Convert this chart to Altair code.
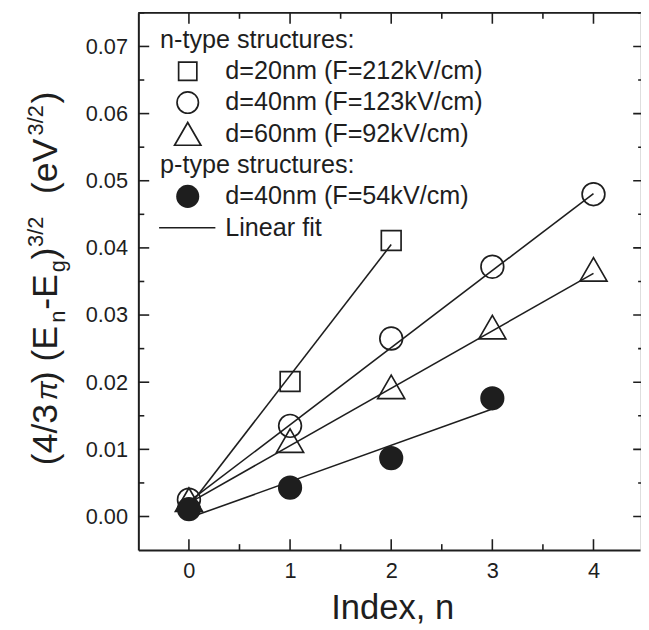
import altair as alt
import pandas as pd

# ---------------- data ----------------
x_ticks = [0, 1, 2, 3, 4]
y_ticks = [0.00, 0.01, 0.02, 0.03, 0.04, 0.05, 0.06, 0.07]

sq_n = [1, 2]
sq_v = [0.0201, 0.0411]
ci_n = [0, 1, 2, 3, 4]
ci_v = [0.0025, 0.0135, 0.0265, 0.0372, 0.0480]
tr_n = [0, 1, 2, 3, 4]
tr_v = [0.0025, 0.0113, 0.0193, 0.0282, 0.0368]
fc_n = [0, 1, 2, 3]
fc_v = [0.0011, 0.0043, 0.0087, 0.0176]

fit_sq_n = [0, 2]
fit_sq_v = [0.0015, 0.0405]
fit_ci_n = [0, 4]
fit_ci_v = [0.0022, 0.0481]
fit_tr_n = [0, 4]
fit_tr_v = [0.0020, 0.0362]
fit_fc_n = [0, 3]
fit_fc_v = [-0.0002, 0.0160]

legend_labels = ["n-type structures:", "d=20nm (F=212kV/cm)", "d=40nm (F=123kV/cm)",
                 "d=60nm (F=92kV/cm)", "p-type structures:", "d=40nm (F=54kV/cm)", "Linear fit"]

# ---------------- style / layout ----------------
INK = "#1e1e1e"
FONT = "Liberation Sans"
W, H = 508, 544
XMIN, XMAX = -0.5, 4.46
YMIN, YMAX = -0.005, 0.075
XEDGE = 4.5

xscale = alt.Scale(domain=[XMIN, XMAX], nice=False, zero=False)
yscale = alt.Scale(domain=[YMIN, YMAX], nice=False, zero=False)
xaxis = alt.Axis(values=x_ticks, format="d", ticks=False, grid=False, domainColor=INK,
                 domainWidth=2, labelFontSize=22, labelPadding=11, labelColor=INK,
                 labelFont=FONT, title="Index, n", titleFontSize=35, titleFont=FONT,
                 titleFontWeight="normal", titleColor=INK, titleX=257, titleY=69,
                 titleAlign="center", titleBaseline="alphabetic")
yaxis = alt.Axis(values=y_ticks, format=".2f", ticks=False, grid=False, domainColor=INK,
                 domainWidth=2, labelFontSize=22, labelPadding=11, labelColor=INK,
                 labelFont=FONT, title="")


def X(field):
    return alt.X(field, type="quantitative", scale=xscale, axis=xaxis)


def Y(field):
    return alt.Y(field, type="quantitative", scale=yscale, axis=yaxis)


def XD(v):
    return alt.XDatum(v, scale=xscale, axis=xaxis)


def YD(v):
    return alt.YDatum(v, scale=yscale, axis=yaxis)


def df(ns, vs):
    return pd.DataFrame({"n": ns, "v": vs})


layers = []

# top frame line
layers.append(alt.Chart(pd.DataFrame({"a": [0]})).mark_rule(color=INK, strokeWidth=2)
              .encode(y=YD(YMAX)))

# fit lines
for ns, vs in [(fit_sq_n, fit_sq_v), (fit_ci_n, fit_ci_v), (fit_tr_n, fit_tr_v), (fit_fc_n, fit_fc_v)]:
    layers.append(alt.Chart(df(ns, vs)).mark_line(color=INK, strokeWidth=1.6)
                  .encode(x=X("n"), y=Y("v")))

# points
layers.append(alt.Chart(df(sq_n, sq_v)).mark_point(shape="square", size=400, filled=False,
              color=INK, strokeWidth=1.7, opacity=1).encode(x=X("n"), y=Y("v")))
layers.append(alt.Chart(df(ci_n, ci_v)).mark_point(shape="circle", size=530, filled=False,
              color=INK, strokeWidth=1.7, opacity=1).encode(x=X("n"), y=Y("v")))
layers.append(alt.Chart(df(tr_n, tr_v)).mark_point(shape="triangle-up", size=750, filled=False,
              color=INK, strokeWidth=1.7, opacity=1).encode(x=X("n"), y=Y("v")))
layers.append(alt.Chart(df(fc_n, fc_v)).mark_point(shape="circle", size=600, filled=True,
              color=INK, opacity=1).encode(x=X("n"), y=Y("v")))

# inward ticks
MAJ, MIN_ = 11, 6
x_minor = [t + 0.5 for t in x_ticks[:-1]]
y_minor = [round(t + 0.005, 3) for t in y_ticks]
for vals, L in [(x_ticks, MAJ), (x_minor, MIN_)]:
    d = pd.DataFrame({"n": vals})
    layers.append(alt.Chart(d).mark_tick(orient="vertical", size=L, thickness=1.6, color=INK,
                  opacity=1, yOffset=-L / 2).encode(x=X("n"), y=YD(YMIN)))
    layers.append(alt.Chart(d).mark_tick(orient="vertical", size=L, thickness=1.6, color=INK,
                  opacity=1, yOffset=L / 2).encode(x=X("n"), y=YD(YMAX)))
for vals, L in [(y_ticks, MAJ), (y_minor, MIN_)]:
    d = pd.DataFrame({"v": vals})
    layers.append(alt.Chart(d).mark_tick(orient="horizontal", size=L, thickness=1.6, color=INK,
                  opacity=1, xOffset=L / 2).encode(y=Y("v"), x=XD(XMIN)))
    layers.append(alt.Chart(d).mark_tick(orient="horizontal", size=L, thickness=1.6, color=INK,
                  opacity=1, xOffset=-L / 2).encode(y=Y("v"), x=XD(XEDGE)))

# legend
row0, dy = 27.5, 31.67
hdr_x, sym_x, txt_x = 22, 50, 88
symbols = [None, ("square", 340, False), ("circle", 470, False), ("triangle-up", 710, False),
           None, ("circle", 545, True), "line"]
for i, lab in enumerate(legend_labels):
    yy = row0 + i * dy
    tx = hdr_x if symbols[i] is None else txt_x
    layers.append(alt.Chart(pd.DataFrame({"t": [lab]})).mark_text(
        align="left", baseline="middle", fontSize=25.5, font=FONT, color=INK)
        .encode(text="t:N", x=alt.value(tx), y=alt.value(yy)))
    s = symbols[i]
    if s == "line":
        layers.append(alt.Chart(pd.DataFrame({"a": [0]})).mark_rule(color=INK, strokeWidth=1.6)
                      .encode(x=alt.value(21), x2=alt.value(78), y=alt.value(yy)))
    elif s is not None:
        shape, size, filled = s
        kw = dict(shape=shape, size=size, filled=filled, color=INK, opacity=1)
        if not filled:
            kw["strokeWidth"] = 1.7
        layers.append(alt.Chart(pd.DataFrame({"a": [0]})).mark_point(**kw)
                      .encode(x=alt.value(sym_x), y=alt.value(yy)))

# y-axis title built from pieces (sub/superscripts)
CW = {" ": 278, "(": 333, ")": 333, "4": 556, "/": 278, "3": 556, "2": 556, "E": 667,
      "n": 556, "-": 333, "g": 556, "e": 556, "V": 667, "π": 560}
MAINF, SUBF = 36, 22
pieces = [("(4/3", MAINF, 0, "normal", 0), ("π", 29, 0, "italic", 0),
          (") (E", MAINF, 0, "normal", 0), ("n", SUBF, 8, "normal", 0),
          ("-E", MAINF, 0, "normal", 0), ("g", SUBF, 8, "normal", 0),
          (")", MAINF, 0, "normal", 0), ("3/2", SUBF, -15, "normal", 0),
          ("(eV", MAINF, 0, "normal", 2 * 278 * MAINF / 1000),
          ("3/2", SUBF, -15, "normal", 0), (")", MAINF, 0, "normal", 0)]
start, end = 458.0, 79.0
adv = [g + sum(CW.get(c, 556) for c in t) * fs / 1000 for t, fs, _, _, g in pieces]
k = (start - end) / sum(adv)
pos = start
base_x = -82
for (txt, fs, shift, style, gap_before), a in zip(pieces, adv):
    pos -= gap_before * k
    layers.append(alt.Chart(pd.DataFrame({"t": [txt]})).mark_text(
        align="left", baseline="alphabetic", angle=270, fontSize=fs, font=FONT,
        fontStyle=style, color=INK)
        .encode(text="t:N", x=alt.value(base_x + shift), y=alt.value(pos)))
    pos -= (a - gap_before) * k

chart = alt.layer(*layers).properties(
    width=W, height=H,
    autosize=alt.AutoSizeParams(type="none"),
    padding={"left": 132, "top": 1, "right": 1, "bottom": 77},
).configure_view(strokeWidth=0).configure(background="white")

chart.save("out.html", embed_options={"renderer": "svg", "actions": False})
